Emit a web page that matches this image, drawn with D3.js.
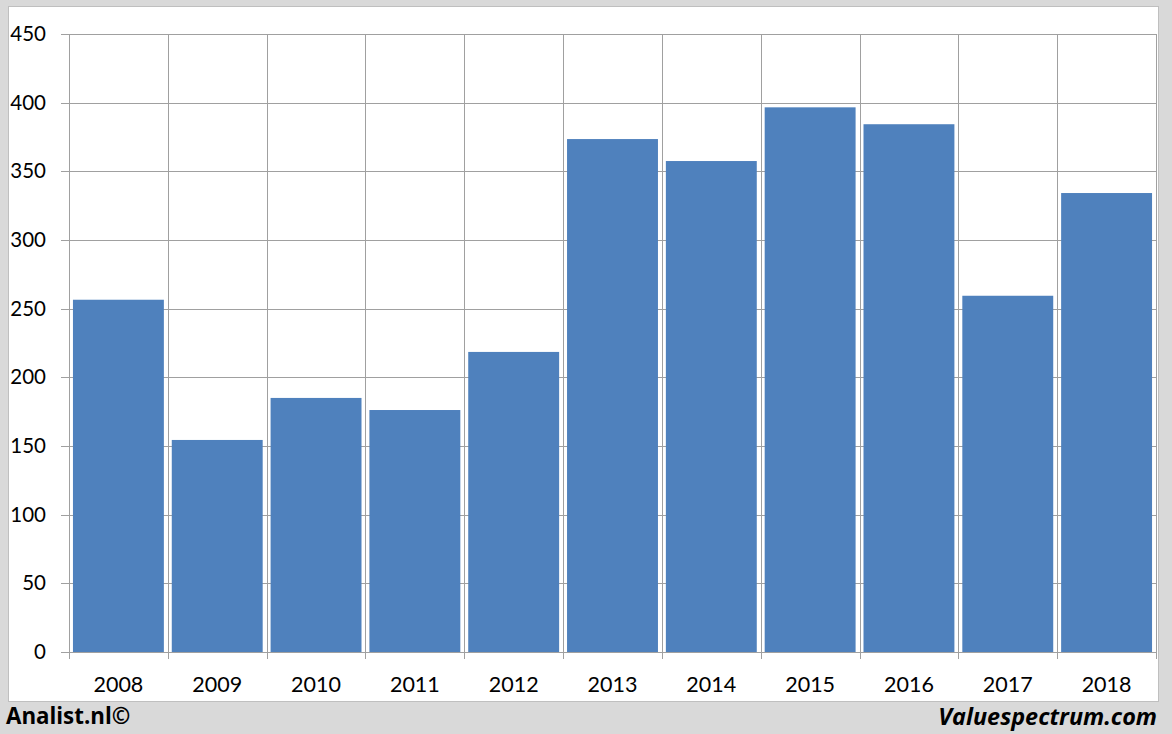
<!DOCTYPE html>
<html>
<head>
<meta charset="utf-8">
<script src="https://cdn.jsdelivr.net/npm/d3@7"></script>
<style>
  html, body { margin: 0; padding: 0; background: #d9d9d9; }
  svg { display: block; }
</style>
</head>
<body>
<svg id="chart" width="1172" height="734"></svg>
<script>
const categories = ["2008","2009","2010","2011","2012","2013","2014","2015","2016","2017","2018"];
const values = [256.5, 154.4, 185, 176.2, 218.5, 373.5, 357.5, 396.6, 384.3, 259.4, 334.2];
const yTicks = [0, 50, 100, 150, 200, 250, 300, 350, 400, 450];

(function () {
const svg = d3.select("#chart");
const W = 1172, H = 734;
const pLeft = 69, pRight = 1156, pTop = 34, pBottom = 652;
const gridColor = "#a0a0a0";
const font = "Lato, 'Open Sans', sans-serif";

svg.append("rect").attr("x", 0).attr("y", 0).attr("width", W).attr("height", H).attr("fill", "#d9d9d9");
svg.append("rect").attr("x", 8.5).attr("y", 6.5).attr("width", 1150).attr("height", 695)
  .attr("fill", "#ffffff").attr("stroke", "#bfbfbf").attr("stroke-width", 1);

const y = d3.scaleLinear().domain([0, 450]).range([pBottom, pTop]);
const xGrid = d3.scaleBand().domain(categories).range([pLeft, pRight]).padding(0);
const x = d3.scaleBand().domain(categories).range([pLeft, pRight]).paddingInner(0.08).paddingOuter(0.04);

// horizontal gridlines with left tick marks
svg.append("g").selectAll("line").data(yTicks).join("line")
  .attr("x1", pLeft - 8).attr("x2", pRight)
  .attr("y1", d => Math.round(y(d)) + 0.5).attr("y2", d => Math.round(y(d)) + 0.5)
  .attr("stroke", gridColor).attr("stroke-width", 1);

// vertical gridlines at category boundaries
const bounds = categories.map(c => xGrid(c)).concat([pRight]);
svg.append("g").selectAll("line").data(bounds).join("line")
  .attr("x1", d => Math.round(d) + 0.5).attr("x2", d => Math.round(d) + 0.5)
  .attr("y1", pTop).attr("y2", pBottom + 7)
  .attr("stroke", gridColor).attr("stroke-width", 1);

// bars
svg.append("g").selectAll("rect").data(values).join("rect")
  .attr("x", (d, i) => x(categories[i]))
  .attr("width", x.bandwidth())
  .attr("y", d => y(d))
  .attr("height", d => pBottom - y(d))
  .attr("fill", "#4f81bd");

// y labels
svg.append("g").selectAll("text").data(yTicks).join("text")
  .attr("x", 46).attr("y", d => y(d) + 7)
  .attr("text-anchor", "end")
  .attr("font-family", font).attr("font-size", 20.5).attr("fill", "#000")
  .text(d => d);

// x labels
svg.append("g").selectAll("text").data(categories).join("text")
  .attr("x", d => xGrid(d) + xGrid.bandwidth() / 2).attr("y", 692)
  .attr("text-anchor", "middle")
  .attr("font-family", font).attr("font-size", 21.5).attr("fill", "#000")
  .text(d => d);

// footer
svg.append("text").attr("x", 6).attr("y", 724)
  .attr("font-family", "'Open Sans', Lato, sans-serif").attr("font-weight", "bold").attr("font-size", 22.3)
  .attr("fill", "#000").text("Analist.nl©");
svg.append("text").attr("x", 1157).attr("y", 725).attr("text-anchor", "end")
  .attr("font-family", "'Open Sans', Lato, sans-serif").attr("font-weight", "bold").attr("font-style", "italic").attr("font-size", 23.4)
  .attr("fill", "#000").text("Valuespectrum.com");
})();
</script>
</body>
</html>
